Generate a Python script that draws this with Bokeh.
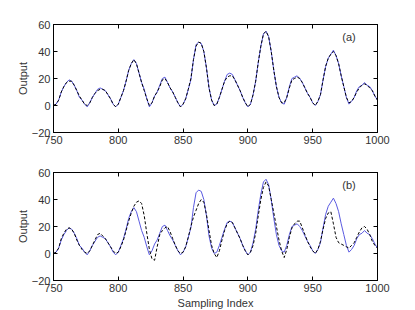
from bokeh.plotting import figure
from bokeh.layouts import column
from bokeh.models import LinearAxis, FixedTicker, Range1d, Label
from bokeh.embed import file_html
from bokeh.resources import INLINE

# Sampling indices (every 2nd sample, 750..1000)
sample_idx = list(range(750, 1001, 2))

# Measured process output
actual = [0, 1, 4, 10, 14, 17, 19, 18, 15, 11, 6, 4, 1, -1, 2, 6, 9, 12, 13, 12,
          11, 8, 5, 1, -1, 1, 6, 11, 18, 26, 31, 34, 31, 24, 17, 12, 5, -1, 2, 7,
          10, 15, 20, 21, 17, 13, 10, 6, 2, -1, 1, 5, 12, 19, 34, 45, 47, 46, 40, 28,
          13, 4, 0, 1, 6, 12, 18, 23, 24, 23, 19, 15, 11, 6, 2, -1, 1, 8, 18, 32,
          44, 53, 55, 51, 40, 26, 14, 6, 2, 1, 6, 14, 20, 21, 22, 20, 17, 13, 9, 6,
          2, 0, 3, 8, 19, 29, 35, 38, 41, 37, 31, 22, 14, 6, 1, 3, 6, 11, 14, 15,
          17, 15, 14, 11, 7, 4]

# Model (a) prediction
model_a = [0, 1, 4, 10, 14, 17, 18, 18, 15, 11, 7, 4, 1, 0, 2, 6, 9, 11, 12, 12,
           11, 8, 5, 1, -1, 1, 6, 11, 18, 26, 31, 34, 31, 24, 17, 11, 5, 0, 2, 7,
           10, 14, 19, 20, 17, 13, 10, 6, 2, -1, 1, 5, 12, 20, 34, 44, 47, 46, 40, 28,
           13, 4, 0, 1, 6, 12, 18, 21, 22, 22, 19, 15, 11, 6, 2, -1, 1, 8, 18, 32,
           44, 53, 55, 51, 40, 26, 14, 6, 2, 2, 6, 13, 19, 20, 21, 20, 17, 13, 9, 6,
           2, 0, 3, 8, 19, 29, 35, 38, 40, 37, 31, 22, 14, 6, 2, 3, 6, 10, 13, 15,
           16, 15, 13, 11, 7, 4]

# Model (b) prediction
model_b = [0, 1, 4, 11, 15, 18, 19, 18, 15, 10, 6, 3, 1, 0, 2, 6, 10, 14, 15, 13,
           11, 8, 5, 2, 0, 1, 5, 10, 17, 24, 30, 35, 38, 39, 37, 28, 15, 3, -4, -5,
           5, 14, 17, 19, 20, 16, 11, 6, 2, 0, 1, 5, 12, 20, 27, 32, 37, 40, 38, 29,
           17, 6, 0, -3, 2, 10, 17, 22, 24, 23, 19, 15, 11, 6, 2, -1, 1, 6, 15, 28,
           40, 49, 53, 50, 40, 30, 20, 10, 2, -3, 3, 12, 19, 22, 24, 24, 19, 14, 9, 5,
           2, 0, 3, 9, 18, 26, 30, 31, 22, 12, 8, 7, 6, 5, 4, 6, 8, 12, 16, 19,
           20, 18, 14, 9, 6, 4]

x_ticks = [750, 800, 850, 900, 950, 1000]
y_ticks = [-20, 0, 20, 40, 60]

FONT = "Liberation Sans"
BLUE = "#5a5ae0"


def style_axis(ax, show_labels=True):
    ax.axis_line_color = "black"
    ax.major_tick_line_color = "black"
    ax.major_tick_in = 4
    ax.major_tick_out = 0
    ax.minor_tick_line_color = None
    ax.major_label_text_font = FONT
    ax.major_label_text_font_size = "11px"
    ax.major_label_text_color = "#333333"
    ax.major_label_standoff = 3
    if not show_labels:
        ax.major_label_text_font_size = "0px"
        ax.major_label_text_alpha = 0


def make_panel(model, tag, top, bottom, xlabel):
    p = figure(frame_width=324, frame_height=108,
               x_range=Range1d(750, 1000), y_range=Range1d(-20, 60),
               output_backend="svg", toolbar_location=None,
               min_border_left=53, min_border_right=38,
               min_border_top=top, min_border_bottom=bottom)
    p.xgrid.visible = False
    p.ygrid.visible = False
    p.outline_line_color = "black"
    p.background_fill_color = "white"
    p.border_fill_color = "white"

    p.line(sample_idx, actual, line_color=BLUE, line_width=1)
    p.line(sample_idx, model, line_color="black", line_width=1, line_dash="3 2")

    p.xaxis.ticker = FixedTicker(ticks=x_ticks)
    p.yaxis.ticker = FixedTicker(ticks=y_ticks)
    for ax in p.xaxis + p.yaxis:
        style_axis(ax)
    p.yaxis.axis_label = "Output"
    p.yaxis.axis_label_text_font = FONT
    p.yaxis.axis_label_text_font_size = "11px"
    p.yaxis.axis_label_text_font_style = "normal"
    p.yaxis.axis_label_text_color = "#333333"
    p.yaxis.axis_label_standoff = 0
    if xlabel:
        p.xaxis.axis_label = xlabel
        p.xaxis.axis_label_text_font = FONT
        p.xaxis.axis_label_text_font_size = "11px"
        p.xaxis.axis_label_text_font_style = "normal"
        p.xaxis.axis_label_text_color = "#333333"
        p.xaxis.axis_label_standoff = 2

    right = LinearAxis(ticker=FixedTicker(ticks=y_ticks))
    above = LinearAxis(ticker=FixedTicker(ticks=x_ticks))
    style_axis(right, False)
    style_axis(above, False)
    p.add_layout(right, "right")
    p.add_layout(above, "above")

    p.add_layout(Label(x=978, y=51, text=tag, text_font=FONT,
                       text_font_size="11px", text_align="center",
                       text_baseline="middle", text_color="#333333"))
    return p


pa = make_panel(model_a, "(a)", 24, 18, None)
pb = make_panel(model_b, "(b)", 22, 30, "Sampling Index")

layout = column(pa, pb, spacing=0)
open("out.html", "w").write(file_html(layout, INLINE))
